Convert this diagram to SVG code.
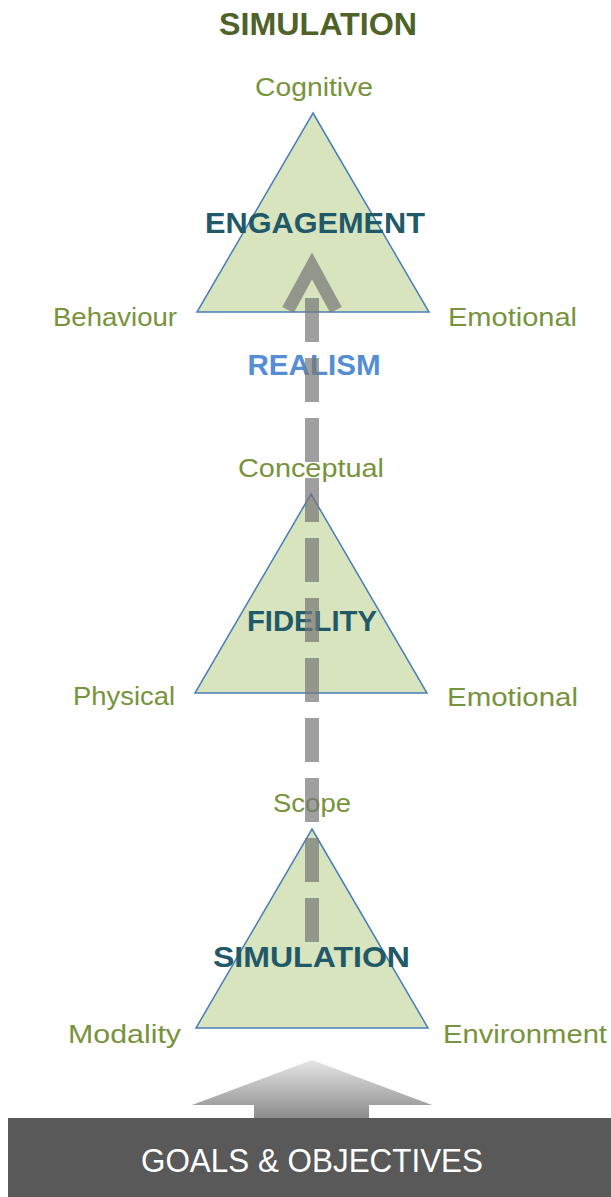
<svg xmlns="http://www.w3.org/2000/svg" width="611" height="1197" viewBox="0 0 611 1197">
<style>
.tri{fill:#d7e4bd;stroke:#4a7ebb;stroke-width:1.5}
.lbl{font-family:"Liberation Sans",Arial,sans-serif;font-size:26px;fill:#77933c}
.name{font-family:"Liberation Sans",Arial,sans-serif;font-size:30px;font-weight:bold;fill:#215968;text-anchor:middle}
.dash{stroke:#767676;stroke-opacity:0.7;fill:none}
</style>
<defs>
<linearGradient id="ag" x1="0" y1="0" x2="0" y2="1">
<stop offset="0" stop-color="#e6e6e6"/>
<stop offset="1" stop-color="#8c8c8c"/>
</linearGradient>
</defs>
<rect width="611" height="1197" fill="#ffffff"/>
<text id="title" x="318" y="35" text-anchor="middle" font-family="Liberation Sans,Arial,sans-serif" font-size="32" font-weight="bold" fill="#4f6228" textLength="198" lengthAdjust="spacingAndGlyphs">SIMULATION</text>
<g id="engagement">
<polygon class="tri" points="313,113 429,312 197,312"/>
<text class="name" x="315" y="233" textLength="220" lengthAdjust="spacingAndGlyphs">ENGAGEMENT</text>
<text class="lbl" x="255" y="96" textLength="118" lengthAdjust="spacingAndGlyphs">Cognitive</text>
<text class="lbl" x="53" y="326" textLength="124" lengthAdjust="spacingAndGlyphs">Behaviour</text>
<text class="lbl" x="448" y="326" textLength="129" lengthAdjust="spacingAndGlyphs">Emotional</text>
</g>
<g id="realism">
<text x="314" y="375" text-anchor="middle" font-family="Liberation Sans,Arial,sans-serif" font-size="29" font-weight="bold" fill="#558ed5" textLength="133" lengthAdjust="spacingAndGlyphs">REALISM</text>
</g>
<g id="fidelity">
<polygon class="tri" points="311,494 427,693 195,693"/>
<text class="name" x="312" y="631" textLength="130" lengthAdjust="spacingAndGlyphs">FIDELITY</text>
<text class="lbl" x="238" y="477" textLength="146" lengthAdjust="spacingAndGlyphs">Conceptual</text>
<text class="lbl" x="73" y="705" textLength="102" lengthAdjust="spacingAndGlyphs">Physical</text>
<text class="lbl" x="447" y="706" textLength="131" lengthAdjust="spacingAndGlyphs">Emotional</text>
</g>
<g id="simulation">
<polygon class="tri" points="312,829 428,1028 196,1028"/>
<text class="name" x="311.5" y="967" textLength="197" lengthAdjust="spacingAndGlyphs">SIMULATION</text>
<text class="lbl" x="273" y="812" textLength="78" lengthAdjust="spacingAndGlyphs">Scope</text>
<text class="lbl" x="68" y="1043" textLength="113" lengthAdjust="spacingAndGlyphs">Modality</text>
<text class="lbl" x="443" y="1043" textLength="164" lengthAdjust="spacingAndGlyphs">Environment</text>
</g>
<g id="connectors">
<line class="dash" x1="312" y1="298" x2="312" y2="942" stroke-width="14" stroke-dasharray="44 16"/>
<polyline class="dash" points="288,310 312,266 336,310" stroke-width="13" stroke-linejoin="miter"/>
</g>
<g id="goals">
<polygon points="312,1060 432,1105 369,1105 369,1118 254,1118 254,1105 192,1105" fill="url(#ag)"/>
<rect x="8" y="1118" width="603" height="79" fill="#595959"/>
<text x="312" y="1172" text-anchor="middle" font-family="Liberation Sans,Arial,sans-serif" font-size="33" fill="#ffffff" textLength="342" lengthAdjust="spacingAndGlyphs">GOALS &amp; OBJECTIVES</text>
</g>
</svg>
